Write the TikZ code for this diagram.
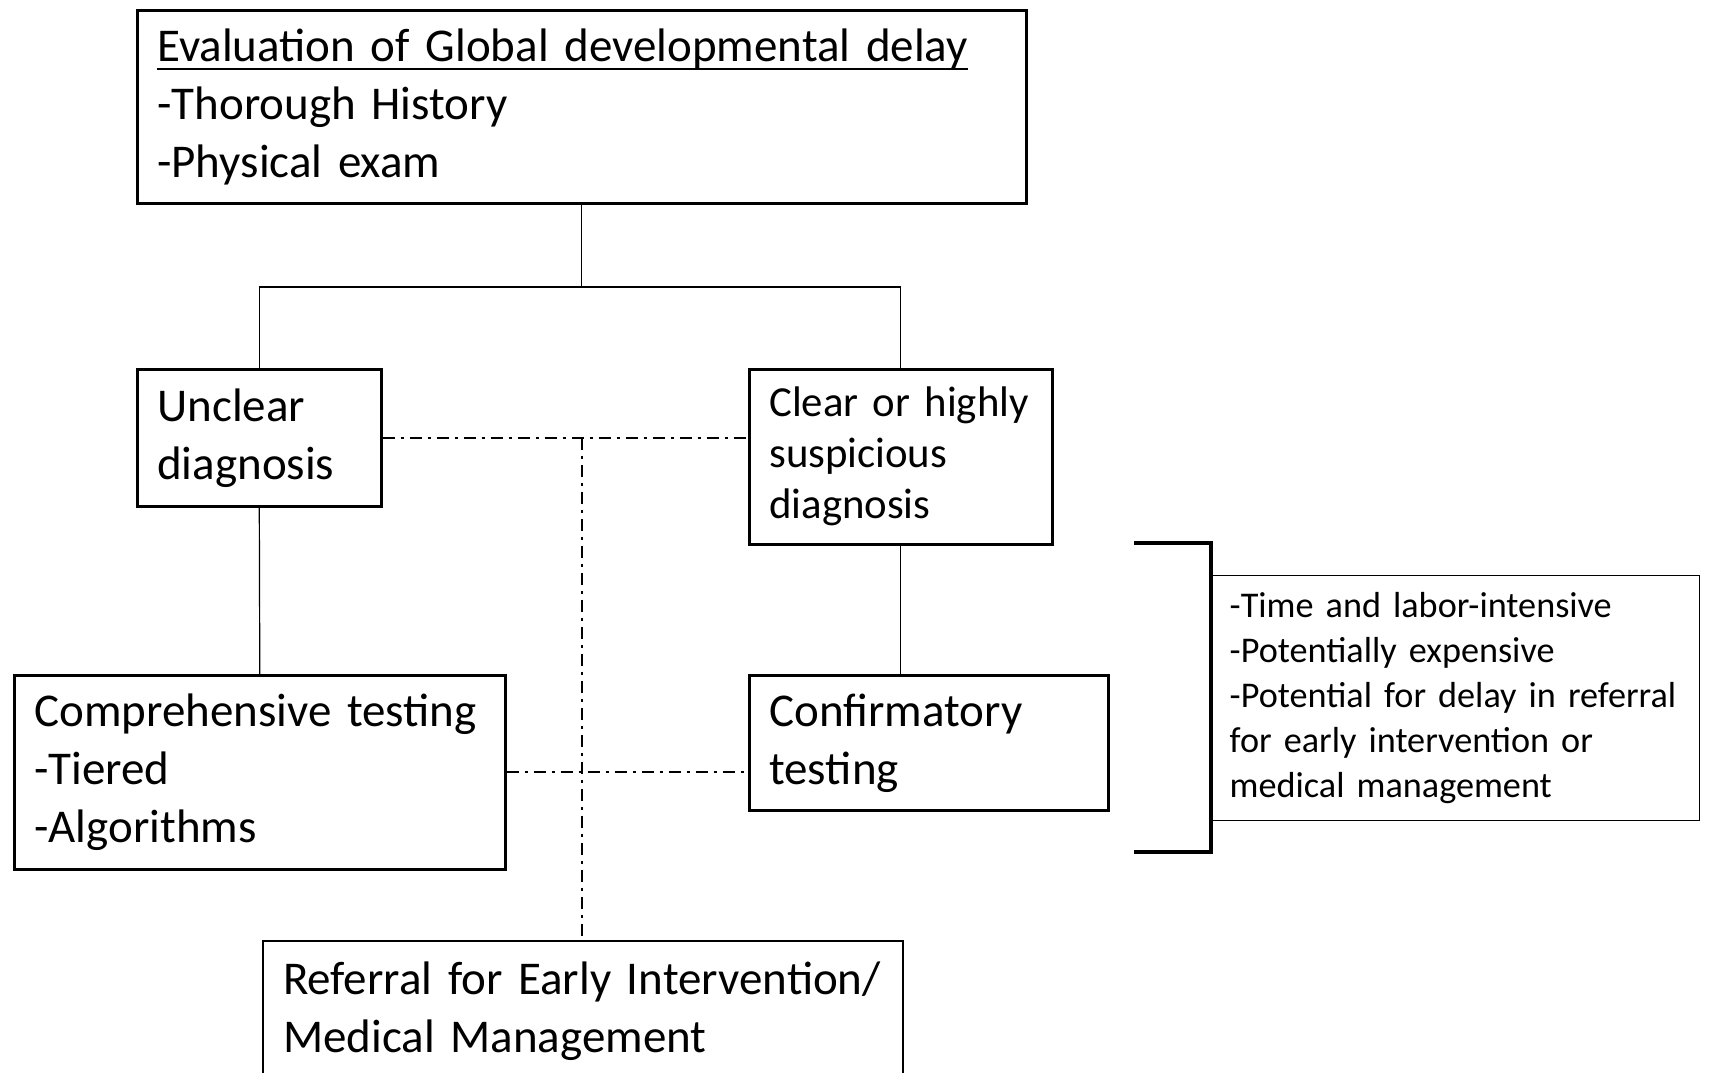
\documentclass[tikz,border=0pt]{standalone}
\usepackage{fontspec}
\setmainfont{Carlito}
\usepackage{tikz}
\usetikzlibrary{positioning}
\newcommand\ulbox[1]{\setbox0\hbox{#1}\rlap{\rule[-4.5pt]{\wd0}{1.3pt}}\box0}

\begin{document}
\begin{tikzpicture}[x=0.5pt,y=-0.5pt,
	box/.style={draw,line width=1.3pt,anchor=north west,align=left,inner xsep=10pt,inner ysep=0pt,font=\fontsize{23.5}{29}\selectfont},
	link/.style={line width=0.6pt},
	dashdot/.style={line width=1pt,dash pattern=on 6pt off 3pt on 1.5pt off 3pt},
	bracket/.style={line width=1.6pt}]
	\useasboundingbox (0,0) rectangle (1709,1072);

	\node[box] (top) at (136,9) [text width=424.5pt,minimum height=96.5pt]
		{\ulbox{Evaluation of Global developmental delay}\\-Thorough History\\-Physical exam};
	\node[box] (unclear) at (136,368) [text width=102pt,minimum height=68.5pt]
		{Unclear\\diagnosis};
	\node[box] (clear) at (748,368) [text width=131.5pt,minimum height=87.5pt,font=\fontsize{21.4}{25.5}\selectfont]
		{Clear or highly\\suspicious\\diagnosis};
	\node[box] (comp) at (13,674) [text width=225.5pt,minimum height=97pt]
		{Comprehensive testing\\-Tiered\\-Algorithms};
	\node[box] (conf) at (748,674) [text width=159.5pt,minimum height=67.5pt]
		{Confirmatory\\testing};
	\node[box] (refer) at (262,940) [line width=1pt,text width=300pt,minimum height=70pt]
		{Referral for Early Intervention/\\Medical Management};
	\node[box] (note) at (1211,575) [line width=0.7pt,text width=226pt,inner xsep=9pt,minimum height=122.5pt,font=\fontsize{18.1}{22.5}\selectfont]
		{-Time and labor-intensive\\-Potentially expensive\\-Potential for delay in referral\\for early intervention or\\medical management};

	\coordinate (split) at (top.south |- 0,287);
	\draw[link] (top.south) -- (split);
	\draw[link] (unclear.north) |- (split) -| (clear.north);
	\draw[link] (unclear.south) -- (comp.north);
	\draw[link] (clear.south) -- (clear.south |- conf.north);

	\coordinate (cross) at (unclear.east -| split);
	\draw[dashdot] (unclear.east) -- (unclear.east -| clear.west);
	\draw[dashdot] (comp.east) -- (comp.east -| conf.west);
	\draw[dashdot] (cross) -- (cross |- refer.north);

	\draw[bracket] (1134,543) -| (note.west |- 0,852) -- (1134,852);
\end{tikzpicture}
\end{document}
